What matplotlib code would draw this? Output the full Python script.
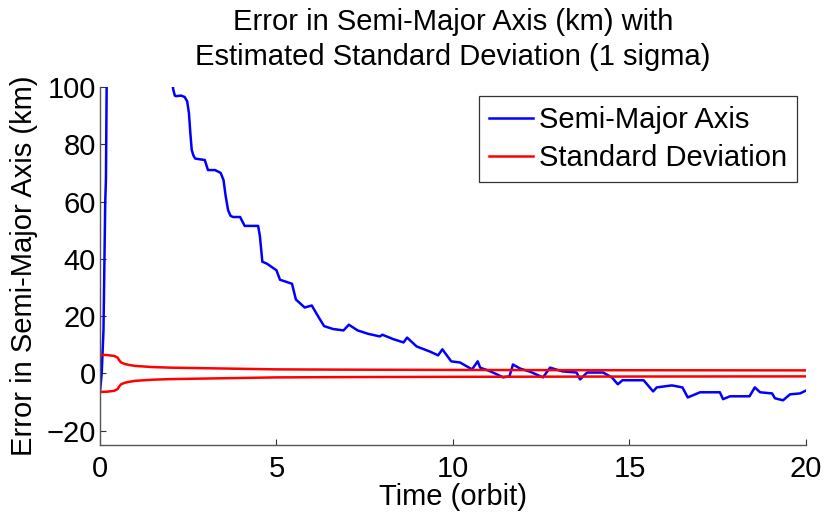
import numpy as np
import matplotlib
matplotlib.use("Agg")
import matplotlib.pyplot as plt

plt.rcParams['font.family'] = ['Liberation Sans', 'DejaVu Sans']

# Semi-major axis error (km) vs time (orbit); values above 100 get clipped
t_sma = [0.0, 0.05, 0.1, 0.15, 0.17, 0.19, 0.25, 1.2, 2.0, 2.07, 2.12, 2.15, 2.3, 2.4, 2.47, 2.52, 2.56, 2.6, 2.65, 2.7, 2.97,
         3.06, 3.26, 3.42, 3.5, 3.56, 3.63, 3.7, 3.77, 3.97, 4.1, 4.48, 4.53, 4.6, 4.73, 5.0, 5.1, 5.44, 5.55, 5.8, 6.0,
         6.2, 6.35, 6.6, 6.9, 7.05, 7.3, 7.6, 7.93, 8.0, 8.3, 8.6, 8.7, 8.97, 9.35, 9.58, 9.7,
         9.95, 10.2, 10.54, 10.7, 10.77, 11.0, 11.24, 11.42, 11.6, 11.7, 11.9, 12.2, 12.55, 12.75,
         13.1, 13.5, 13.6, 13.8, 14.25, 14.5, 14.67, 14.8, 15.4, 15.67, 15.77, 16.2, 16.5, 16.65,
         17.0, 17.56, 17.65, 17.85, 18.4, 18.55, 18.7, 19.04, 19.12, 19.35, 19.55, 19.83, 20.0]
err_sma = [-6.5, 0.0, 15.0, 60.0, 68.0, 100.0, 180.0, 200.0, 110.0, 99.5, 97.0, 96.8, 97.0, 96.5, 95.0, 91.0, 84.0, 78.0, 76.0, 75.0, 74.5,
           71.0, 71.0, 70.0, 67.5, 62.0, 57.0, 55.0, 54.6, 54.6, 51.5, 51.5, 48.0, 39.0, 38.3, 36.0, 32.7, 31.3, 25.8, 23.0, 23.7,
           19.5, 16.5, 15.5, 15.0, 17.0, 15.0, 13.8, 12.9, 13.5, 12.0, 10.8, 12.5, 9.4, 7.6, 6.3, 8.4,
           4.2, 3.8, 1.4, 4.2, 2.0, 1.0, -0.3, -1.4, -1.0, 3.1, 1.7, 0.5, -1.4, 2.0,
           0.7, 0.3, -2.1, 0.3, 0.3, -1.4, -3.8, -2.4, -2.4, -6.3, -4.9, -4.2, -4.9, -8.4,
           -6.6, -6.6, -9.0, -8.0, -8.0, -4.9, -6.6, -7.0, -8.7, -9.4, -7.3, -7.0, -6.0]

# Estimated 1-sigma standard deviation (km)
t_sig = [0.0, 0.2, 0.4, 0.5, 0.55, 0.6, 0.7, 0.8, 1.0, 1.5, 2.0, 3.0, 4.0, 5.0, 7.0, 10.0, 15.0, 20.0]
sigma = [6.5, 6.4, 6.1, 5.5, 4.5, 3.8, 3.3, 3.0, 2.6, 2.2, 2.0, 1.8, 1.6, 1.4, 1.3, 1.2, 1.1, 1.05]

x_ticks = [0, 5, 10, 15, 20]
y_ticks = [-20, 0, 20, 40, 60, 80, 100]

FS = 21

fig = plt.figure(figsize=(8.26, 5.13), dpi=100)
ax = fig.add_axes([0.121, 0.1326, 0.8548, 0.6978])

ax.plot(t_sma, err_sma, color='#0000ff', lw=1.8, label='Semi-Major Axis')
ax.plot(t_sig, sigma, color='#ff0000', lw=1.8, label='Standard Deviation')
ax.plot(t_sig, [-s for s in sigma], color='#ff0000', lw=1.8)

ax.set_xlim(0, 20)
ax.set_ylim(-25, 100)
ax.set_xticks(x_ticks)
ax.set_yticks(y_ticks)
ax.spines['top'].set_visible(False)
ax.spines['right'].set_visible(False)
for s in ['left', 'bottom']:
    ax.spines[s].set_color('#555555')
    ax.spines[s].set_linewidth(1.0)
ax.tick_params(direction='in', length=4, width=0.8, colors='#333333', labelcolor='black', labelsize=FS)
ax.tick_params(axis='x', pad=7)
ax.tick_params(axis='y', pad=3)

ax.set_xlabel('Time (orbit)', fontsize=FS, labelpad=0)
ax.set_ylabel('Error in Semi-Major Axis (km)', fontsize=FS, labelpad=6)
ax.set_title('Error in Semi-Major Axis (km) with\nEstimated Standard Deviation (1 sigma)', fontsize=FS,
             pad=16, linespacing=1.3)

leg = ax.legend(loc='upper right', fontsize=FS, frameon=True, fancybox=False, handlelength=1.5,
                handletextpad=0.2, borderpad=0.35, labelspacing=0.35, borderaxespad=0.3)
leg.get_frame().set_edgecolor('black')
leg.get_frame().set_linewidth(0.9)

fig.savefig('out.png', dpi=100)
